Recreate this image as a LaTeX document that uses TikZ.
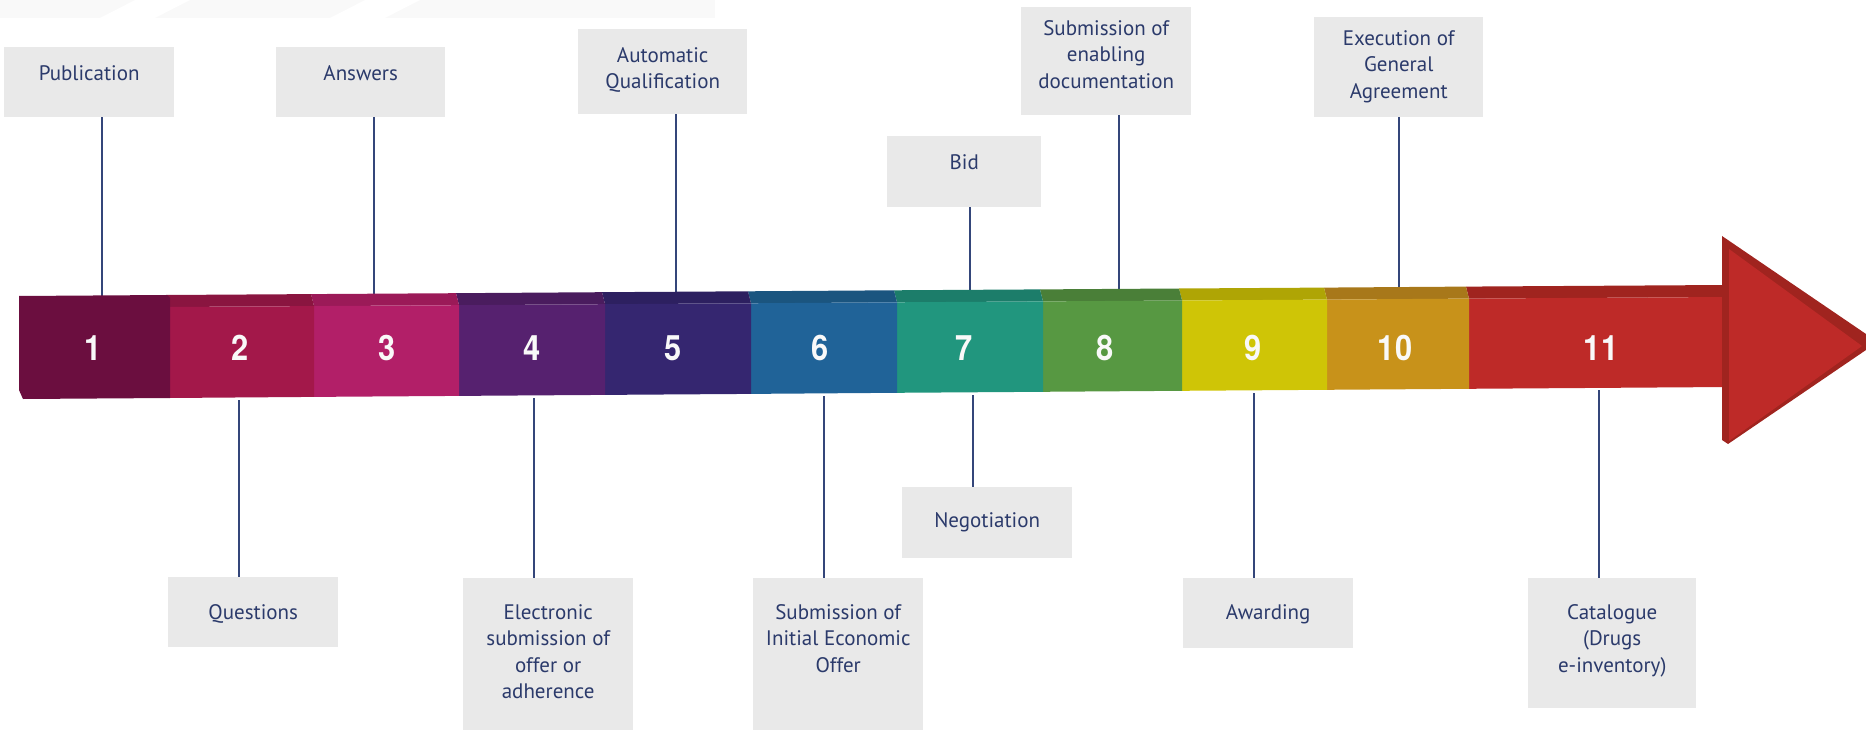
\documentclass[tikz,border=0pt]{standalone}
\usepackage{fontspec}
\setmainfont{PT Sans}
\newfontfamily\numfont[FakeStretch=0.88]{TeX Gyre Heros}
\definecolor{boxgray}{HTML}{E9E9E9}
\definecolor{txtblue}{HTML}{2B3A6B}
\definecolor{linblue}{HTML}{34467A}
\definecolor{faint}{HTML}{F9F9F9}
\definecolor{sA}{HTML}{6B0E3F}
\definecolor{sBs}{HTML}{8A1540}\definecolor{sBf}{HTML}{A3184A}
\definecolor{sCs}{HTML}{9B1A58}\definecolor{sCf}{HTML}{B21F68}
\definecolor{sDs}{HTML}{4A1C5E}\definecolor{sDf}{HTML}{56216F}
\definecolor{sEs}{HTML}{2D2060}\definecolor{sEf}{HTML}{352670}
\definecolor{sFs}{HTML}{1B557F}\definecolor{sFf}{HTML}{206398}
\definecolor{sGs}{HTML}{1C7D6A}\definecolor{sGf}{HTML}{21967E}
\definecolor{sHs}{HTML}{4A7F38}\definecolor{sHf}{HTML}{579842}
\definecolor{sIs}{HTML}{AFA505}\definecolor{sIf}{HTML}{CFC506}
\definecolor{sJs}{HTML}{A8781A}\definecolor{sJf}{HTML}{C8921A}
\definecolor{sKs}{HTML}{A0241F}\definecolor{sKf}{HTML}{BE2A28}
\newcommand\barseg[8]{%
  \fill[#7] ({#1-2},{#2}) -- ({#4-2},{#5}) -- ({#4+1},{#5+12}) -- ({#1+1},{#2+12}) -- cycle;
  \fill[#8] ({#1+1},{#2+12}) -- ({#4+1},{#5+12}) -- ({#4+1},{#6}) -- ({#1+1},{#3}) -- cycle;}
\newcommand\boxtext[4]{\parbox[t][#1][t]{#2}{\centering\vspace*{#3}\rule{0pt}{16pt}#4\par}}
\begin{document}
\begin{tikzpicture}[x=1pt,y=-1pt,
  lbox/.style={fill=boxgray, inner sep=0pt, anchor=north west, text=txtblue,
    font=\fontsize{21}{26.5}\selectfont},
  conn/.style={draw=linblue, line width=2pt},
  num/.style={text=white!95!gray, font=\numfont\bfseries\fontsize{35}{35}\selectfont, inner sep=0pt}]
\useasboundingbox (0,0) rectangle (1866,730);
% faint background band
\fill[faint] (0,0) rectangle (715,18);
\fill[white] (100,18) -- (135,0) -- (190,0) -- (155,18) -- cycle;
\fill[white] (330,18) -- (365,0) -- (420,0) -- (385,18) -- cycle;

% bar coordinates for connectors
\coordinate (t1) at (102,299);
\coordinate (t3) at (374,297);
\coordinate (t5) at (676,295);
\coordinate (t7) at (970,293);
\coordinate (t8) at (1119,292);
\coordinate (t10) at (1399,290);
\coordinate (b2) at (239,400);
\coordinate (b4) at (534,398);
\coordinate (b6) at (824,396);
\coordinate (b7) at (973,395);
\coordinate (b9) at (1254,393);
\coordinate (b11) at (1599,390);

% boxes
\node[lbox] (pub) at (4,47) {\boxtext{70pt}{170pt}{17pt}{Publication}};
\node[lbox] (ans) at (276,47) {\boxtext{70pt}{169pt}{17pt}{Answers}};
\node[lbox] (aut) at (578,29) {\boxtext{85pt}{169pt}{17pt}{Automatic\\Qualification}};
\node[lbox] (bid) at (887,136) {\boxtext{71pt}{154pt}{17pt}{Bid}};
\node[lbox] (enb) at (1021,7) {\boxtext{108pt}{170pt}{12pt}{Submission of\\enabling\\documentation}};
\node[lbox] (exe) at (1314,17) {\boxtext{100pt}{169pt}{12pt}{Execution of\\General\\Agreement}};
\node[lbox] (que) at (168,577) {\boxtext{70pt}{170pt}{26pt}{Questions}};
\node[lbox] (ele) at (463,578) {\boxtext{152pt}{170pt}{25pt}{Electronic\\submission of\\offer or\\adherence}};
\node[lbox] (sub) at (753,578) {\boxtext{152pt}{170pt}{25pt}{Submission of\\Initial Economic\\Offer}};
\node[lbox] (neg) at (902,487) {\boxtext{71pt}{170pt}{24pt}{Negotiation}};
\node[lbox] (awa) at (1183,578) {\boxtext{70pt}{170pt}{25pt}{Awarding}};
\node[lbox] (cat) at (1528,578) {\boxtext{130pt}{168pt}{25pt}{Catalogue\\(Drugs\\e-inventory)}};

% connectors
\draw[conn] (t1 |- pub.south) -- (t1);
\draw[conn] (t3 |- ans.south) -- (t3);
\draw[conn] (t5 |- aut.south) -- (t5);
\draw[conn] (t7 |- bid.south) -- (t7);
\draw[conn] (t8 |- enb.south) -- (t8);
\draw[conn] (t10 |- exe.south) -- (t10);
\draw[conn] (b2) -- (b2 |- que.north);
\draw[conn] (b4) -- (b4 |- ele.north);
\draw[conn] (b6) -- (b6 |- sub.north);
\draw[conn] (b7) -- (b7 |- neg.north);
\draw[conn] (b9) -- (b9 |- awa.north);
\draw[conn] (b11) -- (b11 |- cat.north);

% arrow bar
\barseg{1468}{286.6}{388.8}{1728}{285.0}{387.0}{sKs}{sKf}
\fill[sKs] (1722,236) -- (1866,334) -- (1866,350) -- (1728,444) -- (1722,440) -- cycle;
\fill[sKf] (1729,249) -- (1862,346) -- (1729,441) -- cycle;
\barseg{1326}{287.6}{389.8}{1468}{286.6}{388.8}{sJs}{sJf}
\barseg{1181}{288.5}{390.8}{1326}{287.6}{389.8}{sIs}{sIf}
\barseg{1042}{289.4}{391.8}{1181}{288.5}{390.8}{sHs}{sHf}
\barseg{896}{290.3}{392.8}{1042}{289.4}{391.8}{sGs}{sGf}
\barseg{750}{291.3}{393.9}{896}{290.3}{392.8}{sFs}{sFf}
\barseg{604}{292.2}{394.9}{750}{291.3}{393.9}{sEs}{sEf}
\barseg{458}{293.2}{395.9}{604}{292.2}{394.9}{sDs}{sDf}
\barseg{313}{294.1}{396.9}{458}{293.2}{395.9}{sCs}{sCf}
\barseg{168}{295.0}{398.0}{313}{294.1}{396.9}{sBs}{sBf}
\fill[sA] (19,296) -- (167,295) -- (170,298) -- (170,398) -- (23,399) -- (19,390) -- cycle;

% numbers
\node[num] (n1) at (93,348) {1};
\node[num] (n2) at (240,348) {2};
\node[num] (n3) at (387,348) {3};
\node[num] (n4) at (532,348) {4};
\node[num] (n5) at (673,348) {5};
\node[num] (n6) at (820,348) {6};
\node[num] (n7) at (964,348) {7};
\node[num] (n8) at (1105,348) {8};
\node[num] (n9) at (1253,348) {9};
\node[num] (n10) at (1395,348) {10};
\node[num] (n11) at (1601,348) {11};
\end{tikzpicture}
\end{document}
